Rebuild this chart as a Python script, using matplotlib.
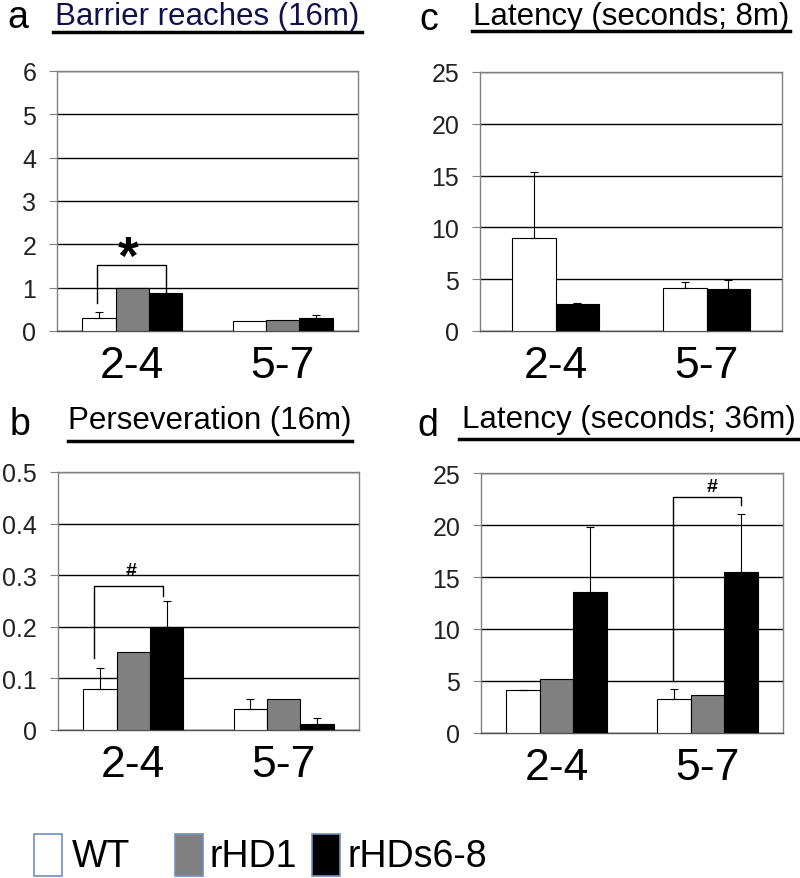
import matplotlib
matplotlib.use('Agg')
import matplotlib.pyplot as plt
from matplotlib.patches import Rectangle

plt.rcParams['font.family'] = ['Liberation Sans', 'DejaVu Sans']

# data
groups = ['2-4', '5-7']

a_wt = [0.31, 0.23]
a_wt_err = [0.14, 0]
a_hd1 = [1.0, 0.25]
a_hds = [0.87, 0.29]
a_hds_err = [0, 0.08]

b_wt = [0.08, 0.04]
b_wt_err = [0.04, 0.02]
b_hd1 = [0.152, 0.06]
b_hds = [0.2, 0.012]
b_hds_err = [0.05, 0.012]

c_wt = [9.0, 4.16]
c_wt_err = [6.35, 0.58]
c_hds = [2.65, 4.06]
c_hds_err = [0.07, 0.84]

d_wt = [4.1, 3.3]
d_wt_err = [0.05, 0.9]
d_hd1 = [5.2, 3.7]
d_hds = [13.6, 15.5]
d_hds_err = [6.2, 5.55]

fig = plt.figure(figsize=(8, 8.79), dpi=100)

def panel(rect, series, width, ymax, step, tickfmt):
    ax = fig.add_axes(rect)
    n = len(series)
    offs = [(i - (n - 1) / 2) * width for i in range(n)]
    for (vals, errs, col), off in zip(series, offs):
        xs = [k + off for k in range(len(groups))]
        ax.bar(xs, vals, width=width, color=col, edgecolor='black', linewidth=0.8, zorder=3)
        if errs is not None:
            for x, v, e in zip(xs, vals, errs):
                if e > 0:
                    ax.errorbar([x], [v], yerr=[[0], [e]], fmt='none', ecolor='black',
                                elinewidth=0.8, capsize=3, capthick=0.8, zorder=4)
    ax.set_xlim(-0.5, len(groups) - 0.5)
    ax.set_ylim(0, ymax)
    ticks = [i * step for i in range(int(round(ymax / step)) + 1)]
    ax.set_yticks(ticks)
    ax.set_yticklabels([tickfmt(t) for t in ticks], fontsize=18, color='#222222')
    ax.yaxis.grid(True, color='black', linewidth=1.0, zorder=0)
    ax.set_axisbelow(True)
    ax.set_xticks(range(len(groups)))
    ax.set_xticklabels(groups, fontsize=32)
    ax.tick_params(axis='x', length=0, pad=10)
    ax.tick_params(axis='y', length=6, width=0.8, color='#808080', pad=9)
    for s in ax.spines.values():
        s.set_color('#808080')
        s.set_linewidth(1.0)
    ax.spines['bottom'].set_color('#505050')
    return ax

W, H = 800, 879
def rect(l, t, r, b):
    return [l / W, 1 - b / H, (r - l) / W, (b - t) / H]

intfmt = lambda t: '%d' % round(t)
decfmt = lambda t: '0' if t == 0 else '%.1f' % t

axa = panel(rect(57, 72, 358, 332),
            [(a_wt, a_wt_err, 'white'), (a_hd1, None, '#808080'), (a_hds, a_hds_err, 'black')],
            0.221, 6, 1, intfmt)
axb = panel(rect(58, 473, 359, 731),
            [(b_wt, b_wt_err, 'white'), (b_hd1, None, '#808080'), (b_hds, b_hds_err, 'black')],
            0.221, 0.5, 0.1, decfmt)
axc = panel(rect(480, 73, 782, 332),
            [(c_wt, c_wt_err, 'white'), (c_hds, c_hds_err, 'black')],
            0.285, 25, 5, intfmt)
axd = panel(rect(481, 474, 783, 734),
            [(d_wt, d_wt_err, 'white'), (d_hd1, None, '#808080'), (d_hds, d_hds_err, 'black')],
            0.221, 25, 5, intfmt)

# significance brackets
def bracket(ax, x1, y1, x2, y2, ytop, mark, size, xm, ym):
    ax.plot([x1, x1, x2, x2], [y1, ytop, ytop, y2], color='black', linewidth=1.0, zorder=5)
    ax.text(xm, ym, mark, ha='center', va='center', fontsize=size, fontweight='bold', zorder=6)

bracket(axa, -0.236, 0.64, 0.222, 0.88, 1.52, '*', 38, -0.03, 1.66)
bracket(axb, -0.26, 0.139, 0.2, 0.26, 0.28, '#', 14, -0.015, 0.31)
bracket(axd, 0.77, 5.0, 1.22, 21.9, 22.7, '#', 14, 1.028, 23.7)

# panel letters and titles with underline
titles = [
    ('a', 18, 18, 'Barrier reaches (16m)', 53, 362, 17, 33, '#10104a'),
    ('c', 429, 20, 'Latency (seconds; 8m)', 472, 790, 17, 32, 'black'),
    ('b', 20, 425, 'Perseveration (16m)', 68, 352, 421, 442, 'black'),
    ('d', 428, 426, 'Latency (seconds; 36m)', 459, 798, 420, 440, 'black'),
]
for let, lx, ly, txt, x0, x1, ty, uy, col in titles:
    fig.text(lx / W, 1 - ly / H, let, fontsize=27, ha='center', va='center')
    fig.text((x0 + x1) / 2 / W, 1 - ty / H, txt, fontsize=22.5, ha='center', va='center', color=col)
    fig.add_artist(plt.Line2D([x0 / W, x1 / W], [1 - uy / H, 1 - uy / H], color='black', linewidth=2.5))

# legend
leg_names = ['WT', 'rHD1', 'rHDs6-8']
leg_colors = ['white', '#808080', 'black']
leg_box_x = [34, 175, 312]
leg_txt_x = [72, 210, 347]
for name, c, bx, tx in zip(leg_names, leg_colors, leg_box_x, leg_txt_x):
    fig.add_artist(Rectangle((bx / W, 1 - 877 / H), 28 / W, 42 / H, facecolor=c,
                             edgecolor='#6f8fc0', linewidth=1.2, transform=fig.transFigure))
    fig.text(tx / W, 1 - 857 / H, name, fontsize=27, ha='left', va='center')

fig.savefig('out.png', dpi=100)
